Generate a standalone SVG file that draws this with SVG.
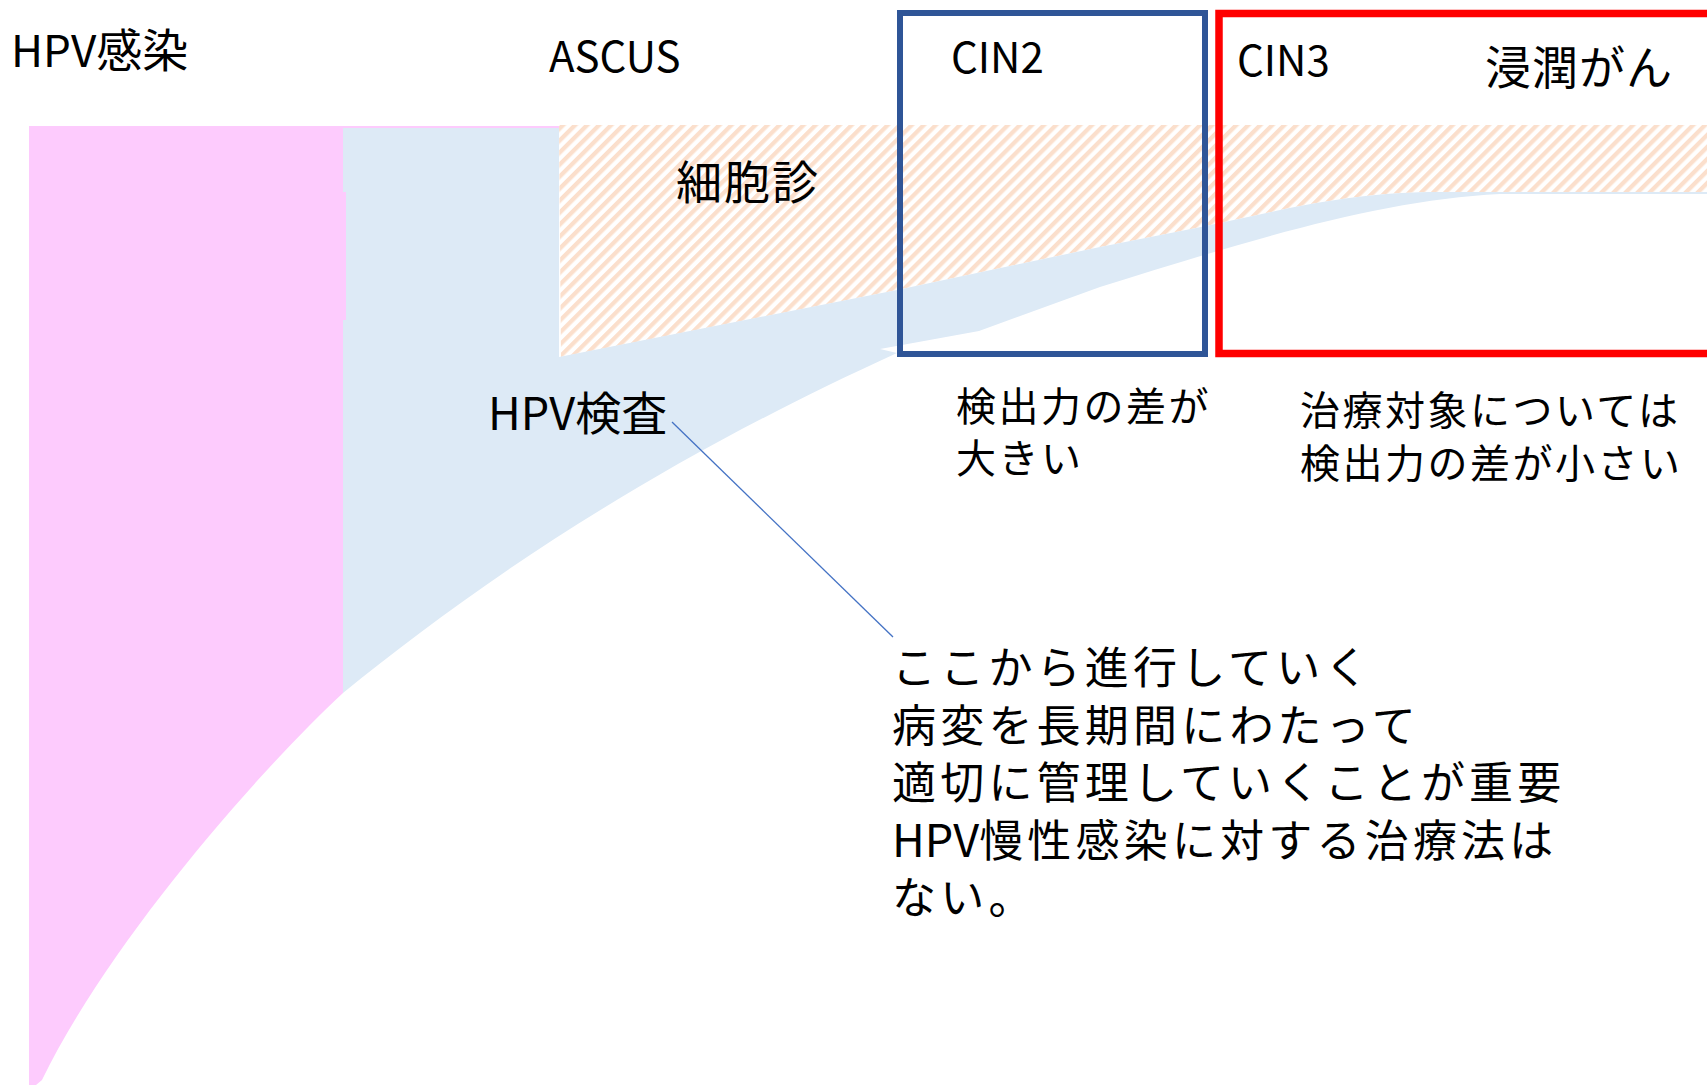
<svg xmlns="http://www.w3.org/2000/svg" width="1707" height="1085" viewBox="0 0 1707 1085">
<style>
.t{font-family:"Noto Sans CJK JP","Noto Sans",sans-serif;fill:#000;}
.h{font-size:46px;}
.lat{font-size:42px;letter-spacing:0;}
.m{font-size:40px;letter-spacing:2.5px;}
.b{font-size:44px;letter-spacing:4.2px;}
.bl{letter-spacing:0;}
.pink{fill:#FDCBFD;}
.blue{fill:#DDEAF6;}
.box{fill:none;}
</style>
<defs>
<pattern id="hatch" patternUnits="userSpaceOnUse" width="8.5" height="8.5" patternTransform="rotate(45)">
<rect width="4.25" height="8.5" fill="#FBDFCC"/>
</pattern>
</defs>
<rect width="1707" height="1085" fill="#FFFFFF"/>

<g id="hpv-infection-area">
<path class="pink" d="M29,126 H559 V128 H343 V693 C260,770 110,940 42,1080 L36,1085 H29 Z"/>
</g>

<g id="cytology-area">
<path fill="url(#hatch)" d="M559,125 H1707 V192 H1430 C1340,193 1270,213 1201,227 L1100,247 L897,290 L561,357 Z"/>
</g>

<g id="hpv-test-area">
<path class="blue" d="M343,128 H559 V357 L897,290 L1100,247 L1201,227 C1270,213 1340,193 1430,192 H1707 V194 H1500 C1380,200 1250,240 1100,287 L979,331 L880,349 L897,353 C640,470 470,590 343,693 Z"/>
<rect class="pink" x="343" y="192" width="3" height="128"/>
</g>

<g id="cin2-box">
<rect class="box" x="900" y="13" width="305" height="341" stroke="#2F5597" stroke-width="6"/>
</g>

<g id="cin3-box">
<rect class="box" x="1219" y="13.5" width="600" height="340" stroke="#FF0000" stroke-width="7.5"/>
</g>

<g id="connectors">
<line x1="672" y1="422" x2="893" y2="637" stroke="#4472C4" stroke-width="1.3"/>
</g>

<g id="label-hpv-infection"><text class="t h" x="11" y="67"><tspan class="lat" style="font-size:44px">HPV</tspan>感染</text></g>
<g id="label-ascus"><text class="t h lat" x="549" y="72">ASCUS</text></g>
<g id="label-cin2"><text class="t h lat" x="951" y="73">CIN2</text></g>
<g id="label-cin3"><text class="t h lat" x="1237" y="76">CIN3</text></g>
<g id="label-invasive"><text class="t h" x="1485" y="84" letter-spacing="1">浸潤がん</text></g>
<g id="label-cytology"><text class="t h" x="676" y="199" letter-spacing="2">細胞診</text></g>
<g id="label-hpv-test"><text class="t h" x="488" y="430"><tspan class="lat" style="font-size:45px">HPV</tspan>検査</text></g>

<g id="note-cin2">
<text class="t m" x="956" y="421">検出力の差が<tspan x="956" dy="52">大きい</tspan></text>
</g>

<g id="note-cin3">
<text class="t m" x="1300" y="425">治療対象については<tspan x="1300" dy="53">検出力の差が小さい</tspan></text>
</g>

<g id="note-main">
<text class="t b" x="892" y="684">ここから進行していく<tspan x="892" dy="58">病変を長期間にわたって</tspan><tspan x="892" dy="57">適切に管理していくことが重要</tspan><tspan x="892" dy="58" class="bl" style="font-size:45px">HPV</tspan><tspan>慢性感染に対する治療法は</tspan><tspan x="892" dy="57">ない。</tspan></text>
</g>
</svg>
